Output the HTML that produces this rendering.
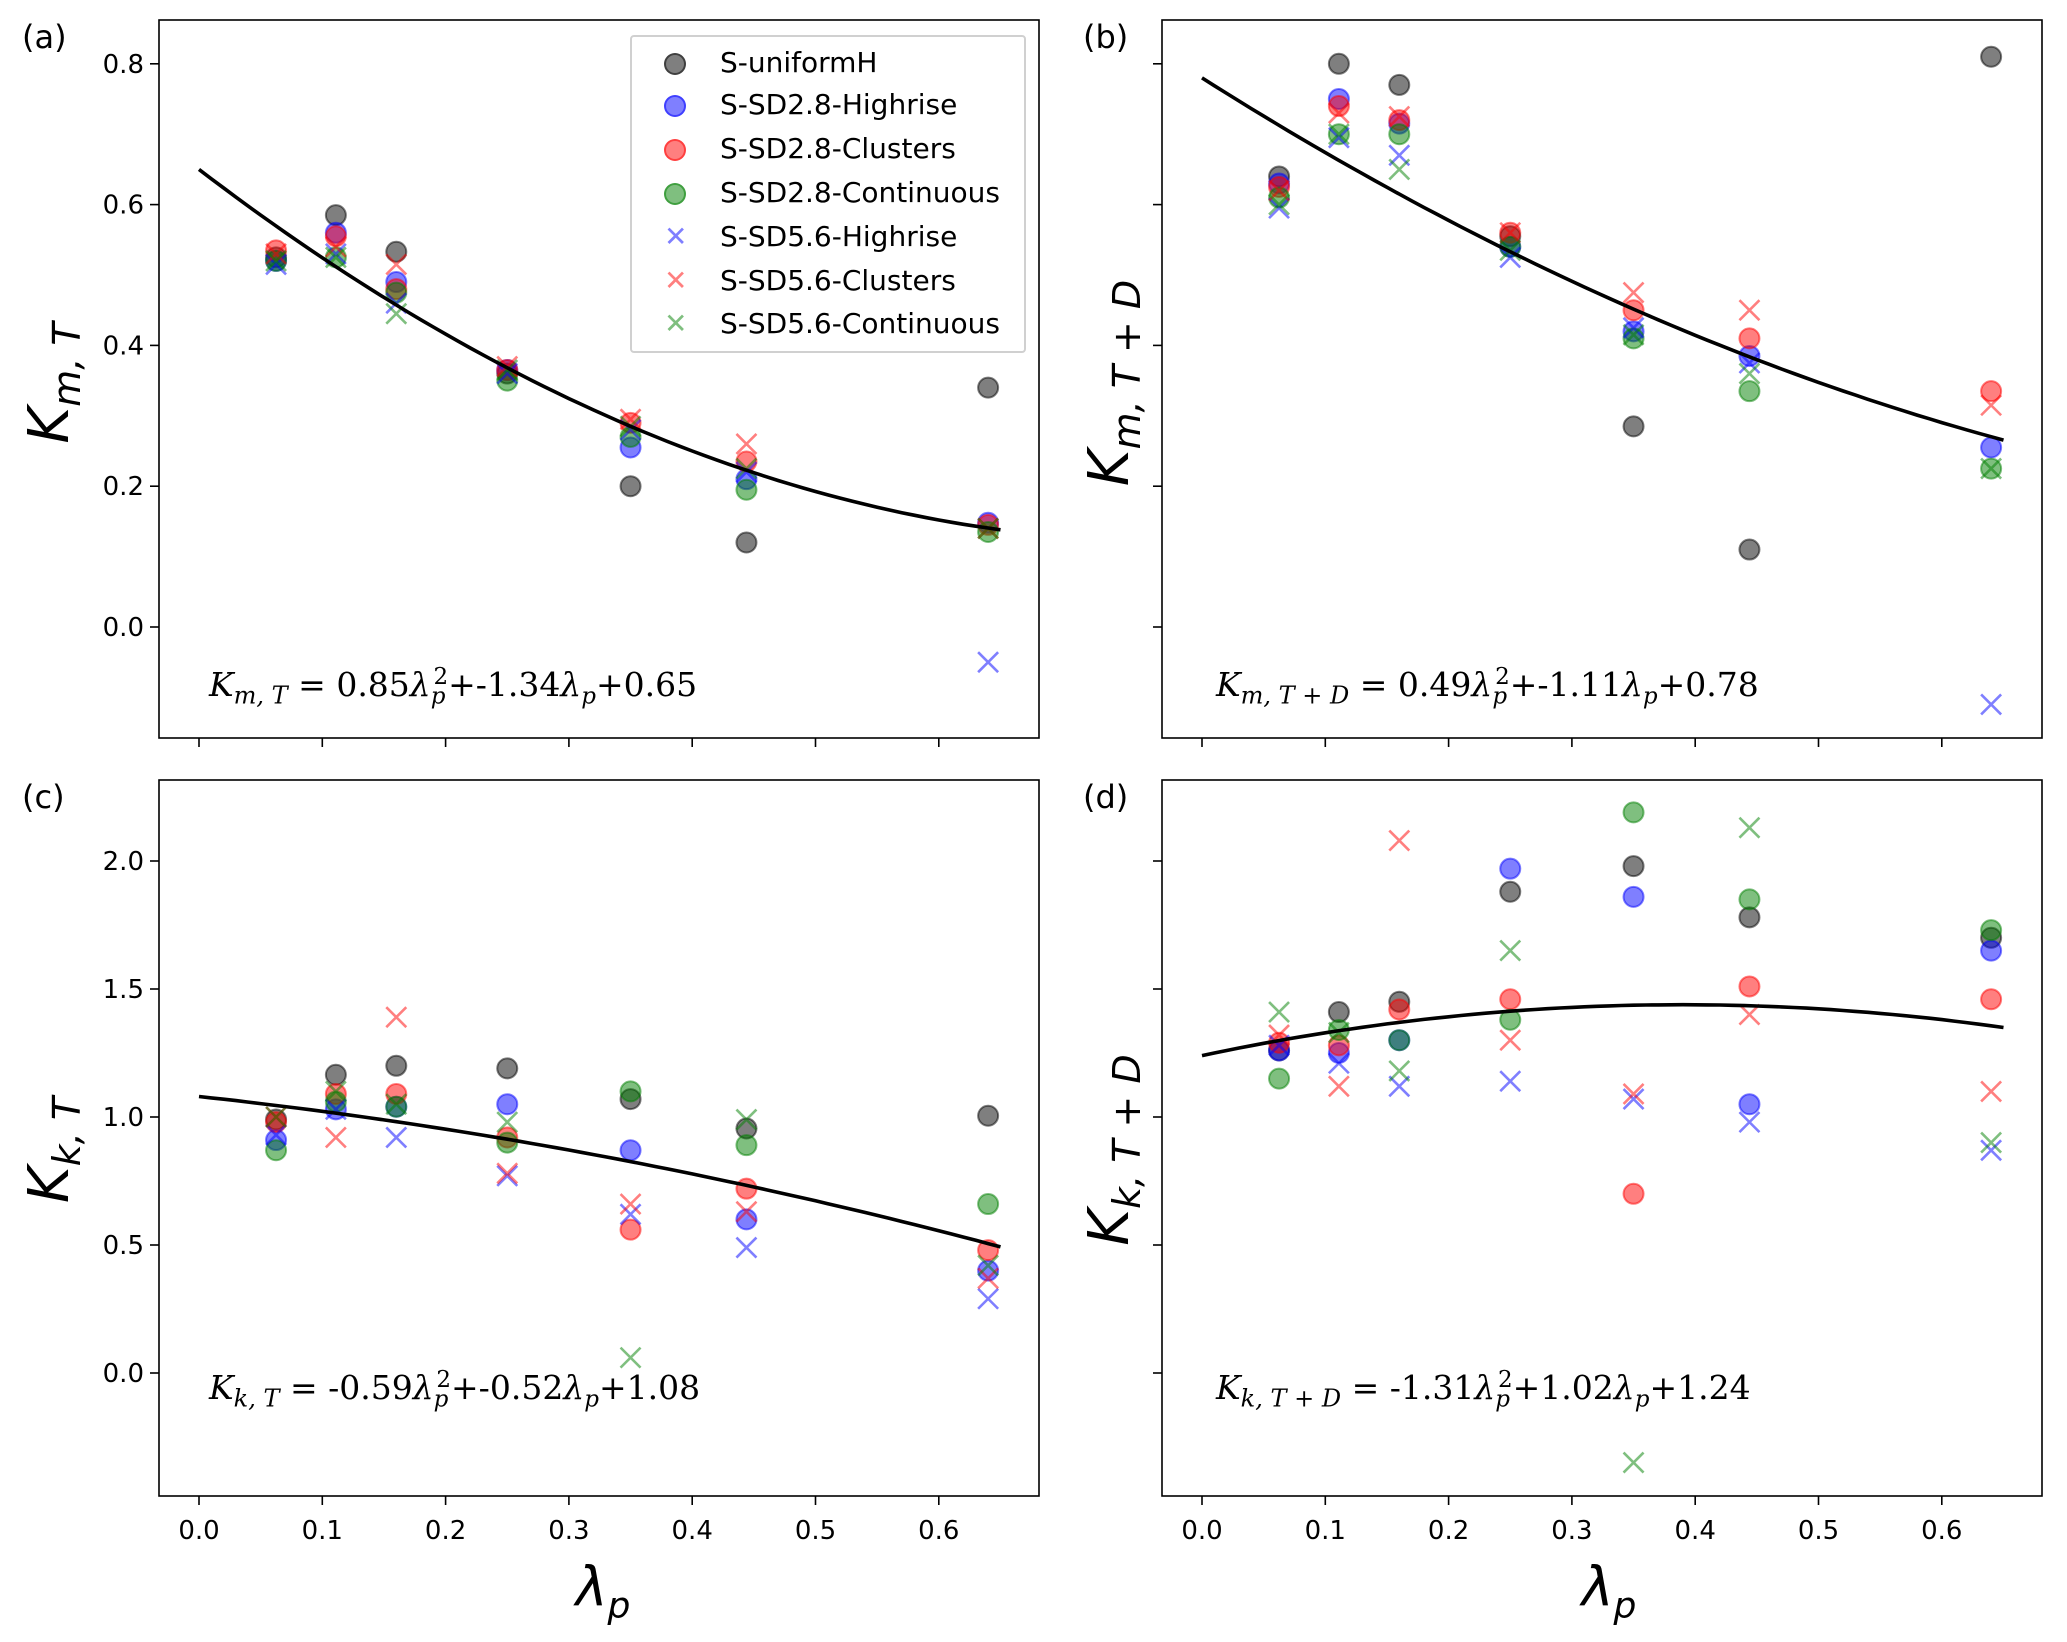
<!DOCTYPE html>
<html><head><meta charset="utf-8"><style>
html,body{margin:0;padding:0;background:#fff;}
svg{display:block;font-family:"DejaVu Sans","Liberation Sans",sans-serif;}
</style></head><body>
<svg id="chart" width="2067" height="1642" viewBox="0 0 2067 1642" xmlns="http://www.w3.org/2000/svg"></svg>
<script>
const xCats = [0.0625, 0.111, 0.16, 0.25, 0.35, 0.444, 0.64];
const seriesNames = ["S-uniformH","S-SD2.8-Highrise","S-SD2.8-Clusters","S-SD2.8-Continuous","S-SD5.6-Highrise","S-SD5.6-Clusters","S-SD5.6-Continuous"];
const seriesColors = ["#000000","#0000ff","#ff0000","#008000","#0000ff","#ff0000","#008000"];
const seriesMarkers = ["o","o","o","o","x","x","x"];
const aVals = [
 [0.525,0.585,0.533,0.36,0.20,0.12,0.34],
 [0.52,0.56,0.49,0.365,0.255,0.21,0.148],
 [0.535,0.555,0.48,0.365,0.29,0.235,0.145],
 [0.52,0.525,0.475,0.35,0.27,0.195,0.135],
 [0.515,0.53,0.46,0.36,0.28,0.22,-0.05],
 [0.53,0.54,0.515,0.37,0.295,0.26,0.14],
 [0.52,0.525,0.445,0.365,0.285,0.225,0.14]];
const bVals = [
 [0.64,0.80,0.77,0.555,0.285,0.11,0.81],
 [0.63,0.75,0.715,0.54,0.42,0.385,0.255],
 [0.625,0.74,0.72,0.56,0.45,0.41,0.335],
 [0.61,0.70,0.70,0.54,0.41,0.335,0.225],
 [0.595,0.695,0.67,0.525,0.425,0.375,-0.11],
 [0.62,0.73,0.725,0.56,0.475,0.45,0.315],
 [0.60,0.70,0.65,0.535,0.415,0.36,0.225]];
const cVals = [
 [0.99,1.165,1.20,1.19,1.07,0.955,1.005],
 [0.91,1.03,1.04,1.05,0.87,0.60,0.40],
 [0.98,1.09,1.09,0.92,0.56,0.72,0.48],
 [0.87,1.06,1.04,0.90,1.10,0.89,0.66],
 [0.93,1.03,0.92,0.77,0.62,0.49,0.29],
 [1.00,0.92,1.39,0.78,0.66,0.63,0.37],
 [1.00,1.10,1.05,0.98,0.06,0.99,0.42]];
const dVals = [
 [1.26,1.41,1.45,1.88,1.98,1.78,1.70],
 [1.26,1.25,1.30,1.97,1.86,1.05,1.65],
 [1.29,1.28,1.42,1.46,0.70,1.51,1.46],
 [1.15,1.34,1.30,1.38,2.19,1.85,1.73],
 [1.28,1.21,1.12,1.14,1.07,0.98,0.87],
 [1.32,1.12,2.08,1.30,1.09,1.40,1.10],
 [1.41,1.33,1.18,1.65,-0.35,2.13,0.90]];
const fitA = [0.85,-1.34,0.65];
const fitB = [0.49,-1.11,0.78];
const fitC = [-0.59,-0.52,1.08];
const fitD = [-1.31,1.02,1.24];
const xTicks = [0.0,0.1,0.2,0.3,0.4,0.5,0.6];
const yTicksTop = [0.0,0.2,0.4,0.6,0.8];
const yTicksBot = [0.0,0.5,1.0,1.5,2.0];

const NS="http://www.w3.org/2000/svg";
const svg=document.getElementById('chart');
function mk(tag,attrs,parent){const e=document.createElementNS(NS,tag);for(const k in attrs)e.setAttribute(k,attrs[k]);(parent||svg).appendChild(e);return e;}

const panels=[
 {id:'a',left:159,right:1039,top:20,bottom:738,x0:199,y0:627,ys:704,vals:aVals,fit:fitA,ticks:yTicksTop,yl:true,xl:false},
 {id:'b',left:1162,right:2042,top:20,bottom:738,x0:1202,y0:627,ys:704,vals:bVals,fit:fitB,ticks:yTicksTop,yl:false,xl:false},
 {id:'c',left:159,right:1039,top:780,bottom:1496,x0:199,y0:1373,ys:256,vals:cVals,fit:fitC,ticks:yTicksBot,yl:true,xl:true},
 {id:'d',left:1162,right:2042,top:780,bottom:1496,x0:1202,y0:1373,ys:256,vals:dVals,fit:fitD,ticks:yTicksBot,yl:false,xl:true}];
const XS=1233;

panels.forEach(p=>{
 const g=mk('g',{});
 
 
 const X=v=>p.x0+v*XS, Y=v=>p.y0-v*p.ys;
 p.ticks.forEach(t=>{
  const l=mk('line',{x1:p.left-9,x2:p.left,y1:Y(t),y2:Y(t),stroke:'#000','stroke-width':1.6},g);
  
  
  if(p.yl){const tx=mk('text',{x:p.left-15,y:Y(t)+9,'text-anchor':'end','font-size':26},g);tx.textContent=t.toFixed(1);
   
   }
 });
 xTicks.forEach(t=>{
  const l=mk('line',{x1:X(t),x2:X(t),y1:p.bottom,y2:p.bottom+9,stroke:'#000','stroke-width':1.6},g);
  
  
  if(p.xl){const tx=mk('text',{x:X(t),y:p.bottom+43,'text-anchor':'middle','font-size':26},g);tx.textContent=t.toFixed(1);
   
   }
 });
 p.vals.forEach((arr,si)=>{
  const sg=mk('g',{},g);
  
  
  arr.forEach((v,i)=>{
   const cx=X(xCats[i]),cy=Y(v),c=seriesColors[si];
   let m;
   if(seriesMarkers[si]==='o'){
    m=mk('circle',{cx:cx,cy:cy,r:10,fill:c,'fill-opacity':0.5,stroke:c,'stroke-opacity':0.5,'stroke-width':2},sg);
   } else {
    m=mk('path',{d:`M${cx-10},${cy-10}L${cx+10},${cy+10}M${cx-10},${cy+10}L${cx+10},${cy-10}`,stroke:c,'stroke-opacity':0.5,'stroke-width':2.6,fill:'none'},sg);
   }
   
   
  });
 });
 let d='';
 for(let k=0;k<=65;k++){const xv=k/100;const yv=p.fit[0]*xv*xv+p.fit[1]*xv+p.fit[2];d+=(k?'L':'M')+X(xv).toFixed(1)+','+Y(yv).toFixed(1);}
 const fc=mk('path',{d:d,stroke:'#000','stroke-width':3.6,fill:'none'},g);
 
 
 const fr=mk('rect',{x:p.left,y:p.top,width:p.right-p.left,height:p.bottom-p.top,fill:'none',stroke:'#000','stroke-width':1.6},g);
 
 
});
</script>
<div style="position:absolute;left:0;top:0;width:2067px;height:1642px;pointer-events:none;font-family:'DejaVu Sans','Liberation Sans',sans-serif;">
 <div style="position:absolute;left:22px;top:18px;font-size:32px;">(a)</div>
 <div style="position:absolute;left:1083px;top:18px;font-size:32px;">(b)</div>
 <div style="position:absolute;left:22px;top:778px;font-size:32px;">(c)</div>
 <div style="position:absolute;left:1083px;top:778px;font-size:32px;">(d)</div>

 <div style="position:absolute;left:53px;top:383px;transform:translate(-50%,-50%) rotate(-90deg);font-size:56px;font-style:italic;white-space:nowrap;">K<sub style="font-size:38px">m, T</sub></div>
 <div style="position:absolute;left:1113px;top:383px;transform:translate(-50%,-50%) rotate(-90deg);font-size:56px;font-style:italic;white-space:nowrap;">K<sub style="font-size:38px">m, T + D</sub></div>
 <div style="position:absolute;left:53px;top:1150px;transform:translate(-50%,-50%) rotate(-90deg);font-size:56px;font-style:italic;white-space:nowrap;">K<sub style="font-size:38px">k, T</sub></div>
 <div style="position:absolute;left:1113px;top:1150px;transform:translate(-50%,-50%) rotate(-90deg);font-size:56px;font-style:italic;white-space:nowrap;">K<sub style="font-size:38px">k, T + D</sub></div>

 <div style="position:absolute;left:603px;top:1591px;transform:translate(-50%,-50%);font-size:54px;font-style:italic;">λ<sub style="font-size:36px">p</sub></div>
 <div style="position:absolute;left:1609px;top:1591px;transform:translate(-50%,-50%);font-size:54px;font-style:italic;">λ<sub style="font-size:36px">p</sub></div>

 <div style="position:absolute;left:209px;top:664px;font-family:'DejaVu Serif',serif;font-size:33px;white-space:nowrap;"><i>K<sub style="font-size:24px">m, T</sub></i> = 0.85<i>λ</i><sub style="font-size:23px"><i>p</i></sub><sup style="font-size:23px;margin-left:-12px">2</sup>+-1.34<i>λ<sub style="font-size:23px">p</sub></i>+0.65</div>
 <div style="position:absolute;left:1216px;top:664px;font-family:'DejaVu Serif',serif;font-size:33px;white-space:nowrap;"><i>K<sub style="font-size:24px">m, T + D</sub></i> = 0.49<i>λ</i><sub style="font-size:23px"><i>p</i></sub><sup style="font-size:23px;margin-left:-12px">2</sup>+-1.11<i>λ<sub style="font-size:23px">p</sub></i>+0.78</div>
 <div style="position:absolute;left:209px;top:1367px;font-family:'DejaVu Serif',serif;font-size:33px;white-space:nowrap;"><i>K<sub style="font-size:24px">k, T</sub></i> = -0.59<i>λ</i><sub style="font-size:23px"><i>p</i></sub><sup style="font-size:23px;margin-left:-12px">2</sup>+-0.52<i>λ<sub style="font-size:23px">p</sub></i>+1.08</div>
 <div style="position:absolute;left:1216px;top:1367px;font-family:'DejaVu Serif',serif;font-size:33px;white-space:nowrap;"><i>K<sub style="font-size:24px">k, T + D</sub></i> = -1.31<i>λ</i><sub style="font-size:23px"><i>p</i></sub><sup style="font-size:23px;margin-left:-12px">2</sup>+1.02<i>λ<sub style="font-size:23px">p</sub></i>+1.24</div>

 <div style="position:absolute;left:630px;top:35px;width:392px;height:314px;border:2px solid #d0d0d0;border-radius:4px;background:rgba(255,255,255,0.8);font-family:'DejaVu Sans',sans-serif;font-size:28px;">
  <div style="position:absolute;left:32px;top:11px;height:30px;line-height:30px;white-space:nowrap;"><span style="display:inline-block;width:18px;height:18px;border-radius:50%;background:rgba(0,0,0,0.5);border:2px solid rgba(0,0,0,0.5);vertical-align:middle;margin-right:34px;"></span>S-uniformH</div>
  <div style="position:absolute;left:32px;top:53px;height:30px;line-height:30px;white-space:nowrap;"><span style="display:inline-block;width:18px;height:18px;border-radius:50%;background:rgba(0,0,255,0.5);border:2px solid rgba(0,0,255,0.5);vertical-align:middle;margin-right:34px;"></span>S-SD2.8-Highrise</div>
  <div style="position:absolute;left:32px;top:97px;height:30px;line-height:30px;white-space:nowrap;"><span style="display:inline-block;width:18px;height:18px;border-radius:50%;background:rgba(255,0,0,0.5);border:2px solid rgba(255,0,0,0.5);vertical-align:middle;margin-right:34px;"></span>S-SD2.8-Clusters</div>
  <div style="position:absolute;left:32px;top:141px;height:30px;line-height:30px;white-space:nowrap;"><span style="display:inline-block;width:18px;height:18px;border-radius:50%;background:rgba(0,128,0,0.5);border:2px solid rgba(0,128,0,0.5);vertical-align:middle;margin-right:34px;"></span>S-SD2.8-Continuous</div>
  <div style="position:absolute;left:32px;top:185px;height:30px;line-height:30px;white-space:nowrap;"><span style="display:inline-block;width:22px;text-align:center;color:rgba(0,0,255,0.5);margin-right:34px;">✕</span>S-SD5.6-Highrise</div>
  <div style="position:absolute;left:32px;top:229px;height:30px;line-height:30px;white-space:nowrap;"><span style="display:inline-block;width:22px;text-align:center;color:rgba(255,0,0,0.5);margin-right:34px;">✕</span>S-SD5.6-Clusters</div>
  <div style="position:absolute;left:32px;top:272px;height:30px;line-height:30px;white-space:nowrap;"><span style="display:inline-block;width:22px;text-align:center;color:rgba(0,128,0,0.5);margin-right:34px;">✕</span>S-SD5.6-Continuous</div>
 </div>
</div>
</body></html>
